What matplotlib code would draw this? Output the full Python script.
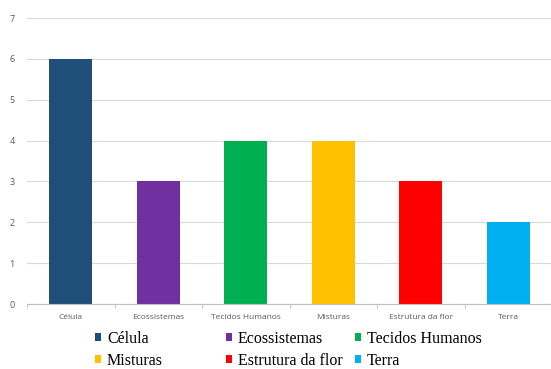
import numpy as np
import matplotlib.pyplot as plt

# ---------- Daten ----------
categories = ["Célula", "Ecossistemas", "Tecidos Humanos", "Misturas", "Estrutura da flor", "Terra"]
values = [6, 3, 4, 4, 3, 2]
colors = ["#1F4E79", "#7030A0", "#00B050", "#FFC000", "#FF0000", "#00B0F0"]
yticks = [0, 1, 2, 3, 4, 5, 6, 7]

# ---------- Plot ----------
fig = plt.figure(figsize=(5.51, 3.69), dpi=100)
ax = fig.add_axes([27 / 551, 1 - 304 / 369, 525 / 551, (304 - 18) / 369])

x = np.arange(len(categories))
bars = ax.bar(x, values, width=0.49, color=colors, zorder=3)

ax.set_xlim(-0.5, len(categories) - 0.5)
ax.set_ylim(0, 7)
ax.set_yticks(yticks)
ax.set_xticks(x)
ax.set_xticklabels(categories, fontsize=6, color="#595959", family="Open Sans")
ax.set_yticklabels([str(v) for v in yticks], fontsize=6.5, color="#595959", family="Open Sans")
ax.set_xticks(np.arange(len(categories) + 1) - 0.5, minor=True)

ax.tick_params(axis="x", which="major", length=0, pad=7)
ax.tick_params(axis="x", which="minor", length=3, color="#BFBFBF", direction="out")
ax.tick_params(axis="y", length=0, pad=9)

ax.grid(axis="y", color="#D9D9D9", linewidth=0.8, zorder=0)
for s in ["top", "right", "left"]:
    ax.spines[s].set_visible(False)
ax.spines["bottom"].set_color("#BFBFBF")
ax.spines["bottom"].set_zorder(4)

# ---------- Legende (zeilenweise wie Excel) ----------
col_x = [95, 226, 355]
for i in range(3):
    h = [bars[i], bars[i + 3]]
    lab = [categories[i], categories[i + 3]]
    fig.legend(
        h, lab,
        loc="upper left",
        bbox_to_anchor=(col_x[i] / 551, 1 - 331 / 369),
        frameon=False,
        prop={"family": "Liberation Serif", "size": 11.5},
        handlelength=0.35,
        handleheight=0.35,
        handletextpad=0.4,
        labelspacing=0.35,
        borderpad=0,
        borderaxespad=0,
    )

plt.savefig("out.png", dpi=100)
